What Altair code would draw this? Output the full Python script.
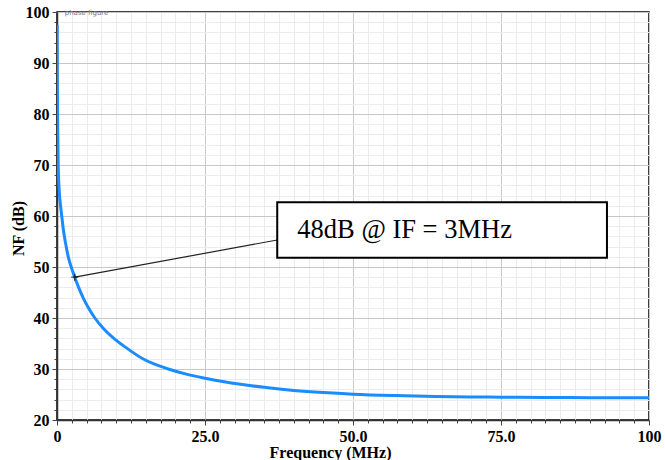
import altair as alt
import pandas as pd

# ---- data ----
freq_mhz = [0.02, 0.05, 0.1, 0.2, 0.4, 0.6, 0.8, 1.0, 1.25, 1.55, 1.9, 2.4, 3.0, 3.65, 4.4, 5.3, 6.4,
            7.8, 9.6, 11.9, 14.5, 18.8, 22, 25, 28, 31, 35, 40, 45, 50, 57, 64, 70, 75, 82, 90, 100]
nf_db = [97.5, 88, 79, 70, 64.5, 62, 60, 58, 56, 54, 52, 50, 48, 46, 44, 42, 40,
         38, 36, 34, 32, 30, 28.95, 28.2, 27.55, 27.0, 26.4, 25.8, 25.38, 25.07, 24.8, 24.62, 24.52, 24.47, 24.42, 24.38, 24.35]

x_ticks = [i * 2.5 for i in range(41)]          # 0 .. 100 every 2.5 (major every 25)
y_ticks = [20 + i * 2 for i in range(41)]       # 20 .. 100 every 2 (major every 10)

marker_f = [3]
marker_nf = [48]
label_text = ["48dB @ IF = 3MHz"]
box_x = [37.2]; box_x2 = [92.9]; box_y = [51.8]; box_y2 = [62.7]
leader_x2 = [37.2]; leader_y2 = [55.3]
text_x = [40.6]; text_y = [55.6]
corner_text = ["phase figure"]

df = pd.DataFrame({"f": freq_mhz, "nf": nf_db})
mk = pd.DataFrame({"f": marker_f, "nf": marker_nf, "f2": leader_x2, "nf2": leader_y2})
box = pd.DataFrame({"f": box_x, "f2": box_x2, "nf": box_y, "nf2": box_y2})
txt = pd.DataFrame({"f": text_x, "nf": text_y, "t": label_text})
corner = pd.DataFrame({"f": [1.3], "nf": [99.8], "t": corner_text})

SERIF = "Liberation Serif"
xs = alt.Scale(domain=[0, 100], nice=False, zero=False)
ys = alt.Scale(domain=[20, 100], nice=False, zero=False)

x_axis = alt.Axis(
    values=x_ticks,
    title="Frequency (MHz)",
    labelExpr="datum.value % 25 === 0 ? ((datum.value === 0 || datum.value === 100) ? ('' + datum.value) : format(datum.value, '.1f')) : ''",
    labelOverlap=False, labelFlush=False,
    labelFont=SERIF, labelFontSize=16, labelFontWeight="bold", labelColor="black", labelPadding=3,
    titleFont=SERIF, titleFontSize=16, titleFontWeight="bold", titleColor="black",
    titleX=273, titleY=40, titleAnchor="middle", titleBaseline="bottom",
    gridColor={"condition": {"test": "datum.value % 25 === 0", "value": "#c8c8c8"}, "value": "#ececec"},
    tickSize={"condition": {"test": "datum.value % 25 === 0", "value": 5}, "value": 3},
    tickColor="#444", domainColor="#333", domainWidth=1.5,
)
y_axis = alt.Axis(
    values=y_ticks,
    title="NF (dB)",
    labelExpr="datum.value % 10 === 0 ? ('' + datum.value) : ''",
    labelOverlap=False, labelFlush=False,
    labelFont=SERIF, labelFontSize=16, labelFontWeight="bold", labelColor="black", labelPadding=3,
    titleFont=SERIF, titleFontSize=16, titleFontWeight="bold", titleColor="black",
    titleX=-39, titleY=216, titleAngle=270, titleAlign="center", titleBaseline="middle",
    gridColor={"condition": {"test": "datum.value % 10 === 0", "value": "#c8c8c8"}, "value": "#ececec"},
    tickSize={"condition": {"test": "datum.value % 10 === 0", "value": 5}, "value": 3},
    tickColor="#444", domainColor="#333", domainWidth=1.5,
)

X = alt.X("f:Q", scale=xs, axis=x_axis)
Y = alt.Y("nf:Q", scale=ys, axis=y_axis)

curve = alt.Chart(df).mark_line(color="#1a8cff", strokeWidth=3, interpolate="monotone", clip=True).encode(x=X, y=Y)

leader = alt.Chart(mk).mark_rule(color="#222", strokeWidth=1.2).encode(x=X, y=Y, x2="f2:Q", y2="nf2:Q")
marker = alt.Chart(mk).mark_point(shape="M-1,0L1,0M0,-1L0,1", size=50, color="black", strokeWidth=1.2).encode(x=X, y=Y)
rect = alt.Chart(box).mark_rect(fill="white", stroke="black", strokeWidth=2).encode(x=X, x2="f2:Q", y=Y, y2="nf2:Q")
label = alt.Chart(txt).mark_text(font=SERIF, fontSize=26.5, align="left", baseline="alphabetic", color="black").encode(
    x=X, y=Y, text="t:N")
corner_lbl = alt.Chart(corner).mark_text(font="DejaVu Sans", fontSize=7, align="left", baseline="middle", color="#777").encode(
    x=X, y=Y, text="t:N")

chart = alt.layer(curve, leader, marker, rect, label, corner_lbl).properties(
    width=592, height=408,
    padding={"left": 57, "top": 12, "right": 16, "bottom": 40},
    autosize=alt.AutoSizeParams(type="none"),
    background="white",
).configure_view(stroke="black", strokeWidth=1.5)

chart.save("out.html", embed_options={"renderer": "svg", "actions": False})
